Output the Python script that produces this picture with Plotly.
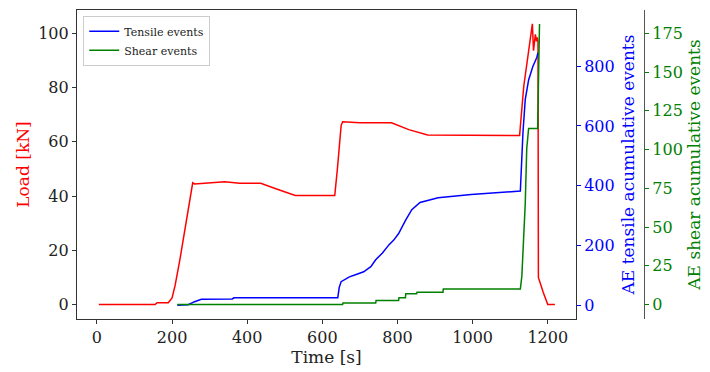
import plotly.graph_objects as go

# ---- data ----
time_load = [5, 155, 160, 190, 200, 208, 221, 235, 248, 255, 260, 300, 340, 380, 436, 480, 528, 580, 633,
             640, 650, 654, 700, 784, 830, 880, 1000, 1125, 1136, 1149, 1155, 1159, 1162, 1167, 1170, 1172,
             1174, 1175, 1188, 1197, 1200, 1219]
load = [0, 0, 0.7, 0.7, 2.5, 7, 16.7, 28.6, 40.6, 44.9, 44.5, 45, 45.3, 44.7, 44.7, 42.5, 40.2, 40.2, 40.2,
        50, 66, 67.4, 67, 67, 64.5, 62.5, 62.3, 62.3, 80.4, 93.6, 99.6, 103.5, 93.6, 99.6, 97, 98.5,
        97, 10, 4.5, 1.2, 0, 0]

time_tensile = [214, 243, 260, 278, 360, 365, 641, 645, 650, 672, 690, 710, 729, 742, 760, 777, 790, 803,
                821, 838, 860, 908, 996, 1123, 1127, 1134, 1140, 1149, 1160, 1171, 1174]
tensile = [0, 2, 12, 20, 21, 25, 25, 60, 79, 95, 103, 112, 129, 152, 175, 202, 218, 240,
           283, 320, 344, 360, 371, 382, 382, 579, 688, 754, 798, 830, 845]

time_shear = [214, 654, 655, 742, 743, 803, 804, 821, 822, 851, 852, 921, 922, 1127, 1131, 1136, 1140,
              1144, 1149, 1173, 1178]
shear = [0, 0, 1, 1, 2.7, 2.7, 4.4, 4.4, 7, 7, 8, 8, 10, 10, 18.5, 48, 65,
         100.6, 113.6, 113.6, 181]

x_ticks = [0, 200, 400, 600, 800, 1000, 1200]
load_ticks = [0, 20, 40, 60, 80, 100]
tensile_ticks = [0, 200, 400, 600, 800]
shear_ticks = [0, 25, 50, 75, 100, 125, 150, 175]

FONT = "DejaVu Serif"
SPINE = "#333333"

fig = go.Figure()
fig.add_trace(go.Scatter(x=time_load, y=load, mode="lines", line=dict(color="red", width=1.5),
                         name="Load", showlegend=False, yaxis="y"))
fig.add_trace(go.Scatter(x=time_tensile, y=tensile, mode="lines", line=dict(color="blue", width=1.5),
                         name="Tensile events", yaxis="y2"))
fig.add_trace(go.Scatter(x=time_shear, y=shear, mode="lines", line=dict(color="green", width=1.5),
                         name="Shear events", yaxis="y3"))

fig.update_layout(
    width=710, height=372,
    margin=dict(l=77, r=58, t=9, b=48),
    paper_bgcolor="white", plot_bgcolor="white",
    font=dict(family=FONT, size=16, color="#222222"),
    xaxis=dict(domain=[0, 0.88], range=[-53, 1275], tickvals=x_ticks, showgrid=False, zeroline=False,
               showline=True, mirror=True, linecolor=SPINE, linewidth=1.2,
               ticks="outside", ticklen=4, tickcolor=SPINE,
               title=dict(text="Time [s]", font=dict(size=17), standoff=4)),
    yaxis=dict(range=[-5.3, 108.6], tickvals=load_ticks, showgrid=False, zeroline=False,
               showline=True, mirror=True, linecolor=SPINE, linewidth=1.2,
               ticks="outside", ticklen=4, tickcolor=SPINE,
               title=dict(text="Load [kN]", font=dict(size=17, color="red"), standoff=4)),
    yaxis2=dict(range=[-46, 988], tickvals=tensile_ticks, showgrid=False, zeroline=False,
                overlaying="y", side="right", anchor="x",
                ticks="outside", ticklen=4, tickcolor="blue", tickfont=dict(color="blue"),
                title=dict(text="AE tensile acumulative events", font=dict(size=17, color="blue"), standoff=8)),
    yaxis3=dict(range=[-9.3, 190], tickvals=shear_ticks, showgrid=False, zeroline=False,
                overlaying="y", side="right", anchor="free", position=1.0,
                showline=True, linecolor="#555555", linewidth=1.2,
                ticks="outside", ticklen=4, tickcolor="green", tickfont=dict(color="green"),
                title=dict(text="AE shear acumulative events", font=dict(size=17, color="green"), standoff=6)),
    legend=dict(x=0.011, y=0.981, xanchor="left", yanchor="top", bgcolor="rgba(255,255,255,0.8)",
                bordercolor="#cccccc", borderwidth=1, font=dict(size=11, color="#222222"),
                tracegroupgap=0, itemwidth=30),
)

fig.write_html("out.html")
